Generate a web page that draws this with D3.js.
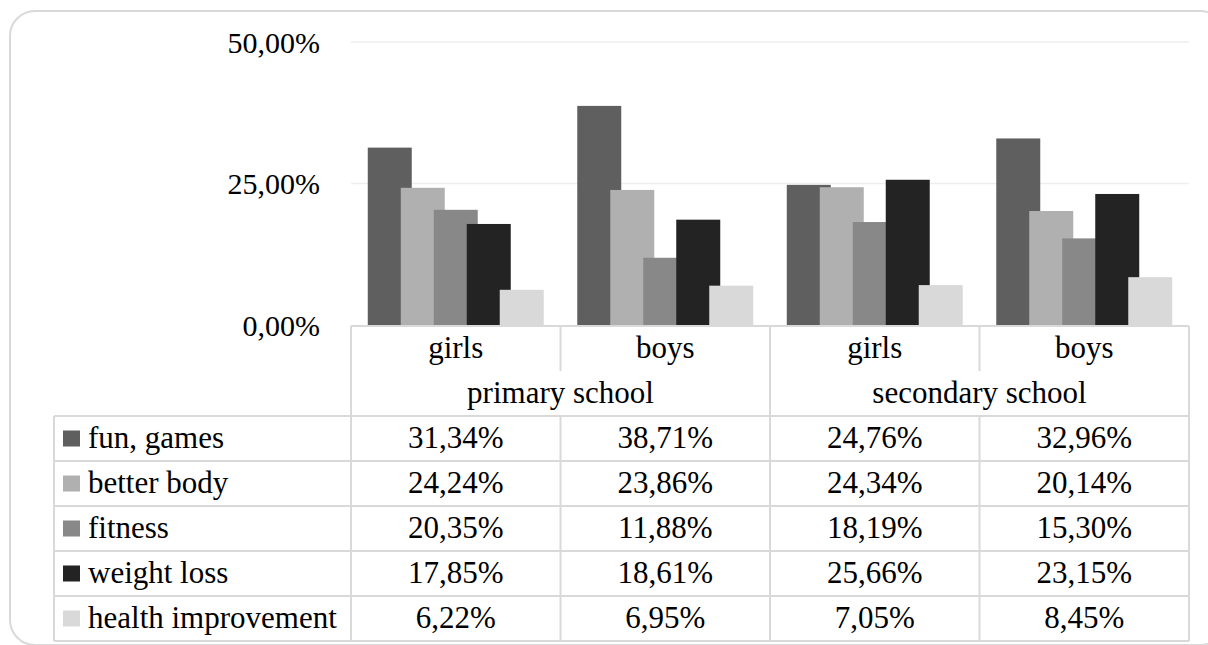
<!DOCTYPE html>
<html>
<head>
<meta charset="utf-8">
<script src="https://cdn.jsdelivr.net/npm/d3@7"></script>
<style>
  html, body { margin: 0; padding: 0; background: #ffffff; }
  svg { display: block; }
</style>
</head>
<body>
<svg id="chart" width="1208" height="645"></svg>
<script>
// Column headers of the data table
const schools = ["primary school", "secondary school"];
const genders = ["girls", "boys", "girls", "boys"];

// Motive series (share of pupils, %)
const seriesNames = ["fun, games", "better body", "fitness", "weight loss", "health improvement"];
const funGames    = [31.34, 38.71, 24.76, 32.96];
const betterBody  = [24.24, 23.86, 24.34, 20.14];
const fitness     = [20.35, 11.88, 18.19, 15.30];
const weightLoss  = [17.85, 18.61, 25.66, 23.15];
const healthImpr  = [6.22, 6.95, 7.05, 8.45];
const seriesColors = ["#5f5f5f", "#b0b0b0", "#888888", "#232323", "#d9d9d9"];

// Value axis ticks
const yTicks = [0, 25, 50];

const series = [funGames, betterBody, fitness, weightLoss, healthImpr].map((values, i) => ({
  name: seriesNames[i], color: seriesColors[i], values
}));

const serif = '"Liberation Serif"';
const svg = d3.select("#chart");
const lineColor = "#d9d9d9";
const fontSize = 31;

// Outer rounded frame
svg.append("rect")
  .attr("x", 10).attr("y", 11)
  .attr("width", 1215).attr("height", 634)
  .attr("rx", 25).attr("ry", 25)
  .attr("fill", "#fff")
  .attr("stroke", lineColor).attr("stroke-width", 2);

// Plot geometry
const plotLeft = 351, plotRight = 1189, plotTop = 42, plotBottom = 325;
const tableLeft = 54, rowH = 45;

const x = d3.scaleBand().domain(d3.range(genders.length)).range([plotLeft, plotRight]).padding(0);
const y = d3.scaleLinear().domain([0, 50]).range([plotBottom, plotTop]);

const fmtPct = v => d3.format(".2f")(v).replace(".", ",") + "%";

// Gridlines
svg.append("g")
  .selectAll("line")
  .data(yTicks.filter(t => t > 0))
  .join("line")
  .attr("x1", plotLeft).attr("x2", plotRight)
  .attr("y1", d => y(d)).attr("y2", d => y(d))
  .attr("stroke", "#eeeeee").attr("stroke-width", 1.5);

// Value axis labels
const yAxis = d3.axisLeft(y).tickValues(yTicks).tickSize(0).tickPadding(31).tickFormat(fmtPct);
const yg = svg.append("g").attr("transform", `translate(${plotLeft},0)`).call(yAxis);
yg.select(".domain").remove();
yg.selectAll("text")
  .style("font-family", serif)
  .style("font-size", "30px")
  .attr("fill", "#000")
  .attr("dy", "0.34em");

// Bars: overlapping clusters inside each category band
const band = x.bandwidth();
const barW = band * 0.21;
const step = barW * 0.75;
const clusterW = step * (series.length - 1) + barW;
const off = d3.scaleLinear().domain([0, series.length - 1]).range([(band - clusterW) / 2, (band - clusterW) / 2 + step * (series.length - 1)]);

const bars = svg.append("g");
series.forEach((s, si) => {
  bars.append("g")
    .selectAll("rect")
    .data(s.values)
    .join("rect")
    .attr("x", (d, i) => x(i) + off(si))
    .attr("y", d => y(d))
    .attr("width", barW)
    .attr("height", d => y(0) - y(d))
    .attr("fill", s.color);
});

// Data table
const table = svg.append("g");
const hdr1 = plotBottom + 1, hdr2 = hdr1 + rowH, body0 = hdr2 + rowH;
const rowsBottom = body0 + rowH * series.length;

const hLine = (x1, x2, yy) => table.append("line")
  .attr("x1", x1).attr("x2", x2).attr("y1", yy).attr("y2", yy)
  .attr("stroke", lineColor).attr("stroke-width", 2);
const vLine = (xx, y1, y2) => table.append("line")
  .attr("x1", xx).attr("x2", xx).attr("y1", y1).attr("y2", y2)
  .attr("stroke", lineColor).attr("stroke-width", 2);

// horizontal rules
hLine(plotLeft, plotRight, hdr1);
for (let r = 0; r <= series.length; r++) hLine(tableLeft, plotRight, body0 + r * rowH);

// vertical rules
vLine(tableLeft, body0, rowsBottom);
vLine(plotLeft, hdr1, rowsBottom);
vLine(plotRight, hdr1, rowsBottom);
genders.forEach((g, i) => {
  if (i === 0) return;
  const xx = x(i);
  if (i % 2 === 0) {
    vLine(xx, hdr1, rowsBottom);        // school boundary spans whole table
  } else {
    vLine(xx, hdr1, hdr2);              // gender split in the first header row
    vLine(xx, body0, rowsBottom);
  }
});

const label = sel => sel
  .style("font-family", serif)
  .style("font-size", fontSize + "px")
  .attr("fill", "#000");

// gender headers
table.append("g").selectAll("text")
  .data(genders)
  .join("text")
  .attr("x", (d, i) => x(i) + band / 2)
  .attr("y", hdr1 + rowH / 2)
  .attr("dy", "0.32em")
  .attr("text-anchor", "middle")
  .call(label)
  .text(d => d);

// school headers
table.append("g").selectAll("text")
  .data(schools)
  .join("text")
  .attr("x", (d, i) => x(i * 2) + band)
  .attr("y", hdr2 + rowH / 2)
  .attr("dy", "0.32em")
  .attr("text-anchor", "middle")
  .call(label)
  .text(d => d);

// body rows
series.forEach((s, si) => {
  const cy = body0 + si * rowH + rowH / 2;
  table.append("rect")
    .attr("x", 63).attr("y", cy - 8)
    .attr("width", 17).attr("height", 16)
    .attr("fill", s.color);
  table.append("text")
    .attr("x", 88).attr("y", cy).attr("dy", "0.32em")
    .call(label)
    .text(s.name);
  table.append("g").selectAll("text")
    .data(s.values)
    .join("text")
    .attr("x", (d, i) => x(i) + band / 2)
    .attr("y", cy).attr("dy", "0.32em")
    .attr("text-anchor", "middle")
    .call(label)
    .text(d => fmtPct(d));
});
</script>
</body>
</html>
